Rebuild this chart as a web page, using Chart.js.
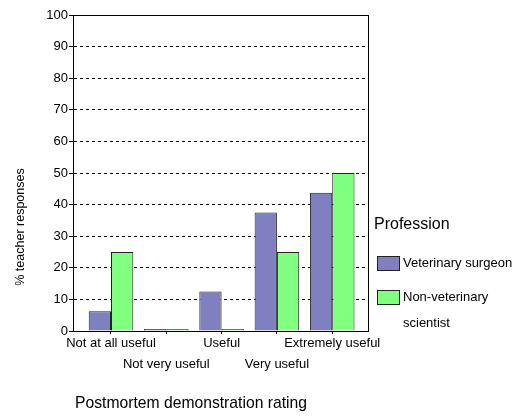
<!DOCTYPE html>
<html>
<head>
<meta charset="utf-8">
<script src="https://cdn.jsdelivr.net/npm/chart.js@4"></script>
<style>
    body { margin: 0; background: #fff; }
    canvas { display: block; }
</style>
</head>
<body>
<canvas id="chart" width="524" height="419"></canvas>
<script>
// data
const ratings = ['Not at all useful', 'Not very useful', 'Useful', 'Very useful', 'Extremely useful'];
const vetSurgeon = [6.25, 0, 12.5, 37.5, 43.75];
const nonVetScientist = [25, 0, 0, 25, 50];
const yTicks = [0, 10, 20, 30, 40, 50, 60, 70, 80, 90, 100];

const FONT = '"Liberation Sans", Arial, sans-serif';

// frame round the plot, axis titles and legend
const decorations = {
    id: 'decorations',
    beforeDatasetsDraw(chart) {
        const { ctx, chartArea: a } = chart;
        ctx.save();
        ctx.strokeStyle = '#000';
        ctx.lineWidth = 1;
        ctx.setLineDash([]);
        ctx.strokeRect(Math.round(a.left) + 0.5, Math.round(a.top) + 0.5,
            Math.round(a.right - a.left), Math.round(a.bottom - a.top));
        ctx.restore();
    },
    afterDraw(chart) {
        const ctx = chart.ctx;
        ctx.save();
        ctx.fillStyle = '#000';
        ctx.textBaseline = 'middle';

        // y title
        ctx.save();
        ctx.translate(21, 227);
        ctx.rotate(-Math.PI / 2);
        ctx.textAlign = 'center';
        ctx.font = `12.5px ${FONT}`;
        ctx.fillText('% teacher responses', 0, 0);
        ctx.restore();

        // x title
        ctx.textAlign = 'center';
        ctx.font = `15.7px ${FONT}`;
        ctx.fillText('Postmortem demonstration rating', 191, 404);

        // legend
        ctx.textAlign = 'left';
        ctx.font = `16px ${FONT}`;
        ctx.fillText('Profession', 374, 225);

        const items = [
            { ds: chart.data.datasets[0], y: 256, lines: ['Veterinary surgeon'] },
            { ds: chart.data.datasets[1], y: 290, lines: ['Non-veterinary', 'scientist'] }
        ];
        ctx.font = `13px ${FONT}`;
        items.forEach(it => {
            ctx.fillStyle = it.ds.backgroundColor;
            ctx.fillRect(377, it.y, 22, 14);
            ctx.strokeStyle = it.ds.borderColor;
            ctx.lineWidth = 1;
            ctx.strokeRect(377.5, it.y + 0.5, 22, 14);
            ctx.fillStyle = '#000';
            it.lines.forEach((t, k) => ctx.fillText(t, 403, it.y + 7 + k * 26));
        });
        ctx.restore();
    }
};

new Chart(document.getElementById('chart'), {
    type: 'bar',
    data: {
        datasets: [
            {
                label: 'Veterinary surgeon',
                data: vetSurgeon.map((v, i) => ({ x: i, y: v })),
                backgroundColor: '#8080c0',
                borderColor: '#222',
                borderWidth: 1
            },
            {
                label: 'Non-veterinary scientist',
                data: nonVetScientist.map((v, i) => ({ x: i, y: v })),
                backgroundColor: '#80ff80',
                borderColor: '#222',
                borderWidth: 1
            }
        ]
    },
    options: {
        responsive: false,
        animation: false,
        categoryPercentage: 0.806,
        barPercentage: 1,
        minBarLength: 2,
        layout: { padding: { top: 15, right: 156, left: 0, bottom: 0 } },
        plugins: {
            legend: { display: false },
            tooltip: { enabled: false }
        },
        scales: {
            x: {
                type: 'linear',
                offset: false,
                min: -0.687,
                max: 4.647,
                afterFit: s => { s.height = 88; },
                grid: {
                    offset: false,
                    drawOnChartArea: false,
                    drawTicks: true,
                    tickLength: 3,
                    color: '#000'
                },
                border: { display: true, color: '#000' },
                ticks: {
                    stepSize: 1,
                    includeBounds: false,
                    autoSkip: false,
                    maxRotation: 0,
                    padding: -1,
                    color: '#000',
                    font: { family: FONT, size: 13, lineHeight: '21px' },
                    callback: v => {
                        const label = ratings[v];
                        if (label === undefined) return '';
                        return v % 2 ? ['', label] : label;
                    }
                }
            },
            y: {
                min: 0,
                max: 100,
                afterFit: s => { s.width = 73; },
                afterBuildTicks: s => { s.ticks = yTicks.map(v => ({ value: v })); },
                grid: {
                    color: '#000',
                    tickLength: 4,
                    tickColor: '#000',
                    tickBorderDash: []
                },
                border: { display: true, color: '#000', dash: [3, 3] },
                ticks: {
                    padding: 1,
                    color: '#000',
                    font: { family: FONT, size: 13 }
                }
            }
        }
    },
    plugins: [decorations]
});
</script>
</body>
</html>
